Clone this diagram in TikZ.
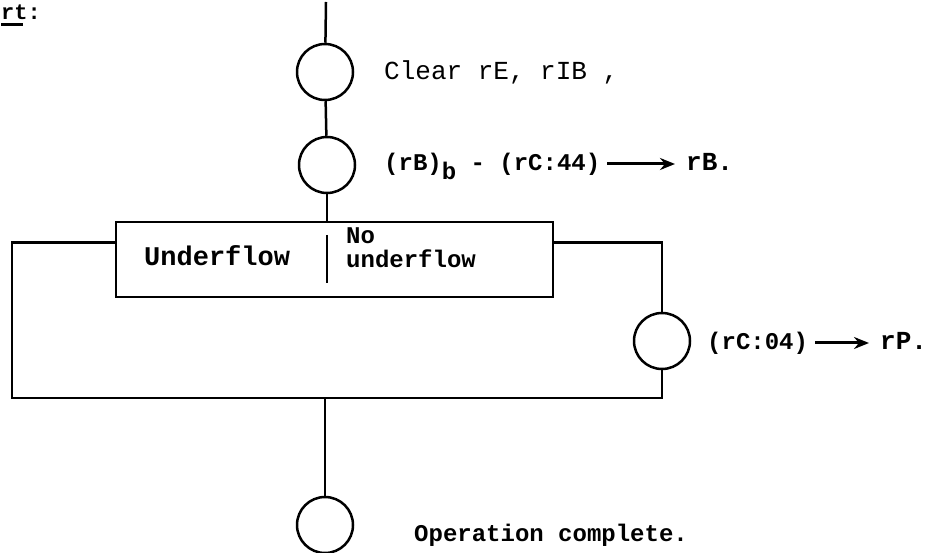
\documentclass[tikz,border=0pt]{standalone}
\usepackage{fontspec}
\setmonofont{Liberation Mono}
\usetikzlibrary{arrows.meta,positioning}
\tikzset{
  stepcircle/.style={draw, circle, line width=2.5pt, minimum size=56pt, inner sep=0pt},
  flowline/.style={line width=2.5pt},
  steptext/.style={font=\ttfamily\bfseries\fontsize{24}{28}\selectfont, inner sep=0pt, anchor=base west},
  plaintext/.style={font=\ttfamily\fontsize{26}{28}\selectfont, inner sep=0pt, anchor=base west},
  maparrow/.style={line width=3pt, -{Stealth[length=15pt,width=12pt]}, shorten <=7pt, shorten >=11pt}
}
\begin{document}
\begin{tikzpicture}[x=1pt,y=-1pt]
  \useasboundingbox (0,0) rectangle (948,553);
  % heading
  \node[steptext, font=\ttfamily\bfseries\fontsize{22}{26}\selectfont] (head) at (1,20) {rt:};
  \draw[line width=3pt] (1,25) -- (23,25);
  % main column of steps
  \coordinate (entry) at (326,2);
  \node[stepcircle] (clr) at (325,72) {};
  \node[stepcircle] (sub) at (327,165) {};
  \node[draw, line width=2.5pt, minimum width=437pt, minimum height=75pt, inner sep=0pt] (test) at (334.5,259.5) {};
  \node[stepcircle] (mov) at (662,341) {};
  \node[stepcircle] (done) at (325,525) {};
  \coordinate (loopL) at (12,398);
  \coordinate (join) at (325,398);
  % connectors
  \draw[flowline] (entry) -- (clr);
  \draw[flowline] (clr) -- (sub);
  \draw[flowline] (sub) -- (sub |- test.north);
  \draw[flowline] ([yshift=17pt]test.west) -| (loopL) -| (mov);
  \draw[flowline] ([yshift=17pt]test.east) -| (mov);
  \draw[flowline] (join) -- (done);
  % split inside the test box
  \draw[flowline] (327,235) -- (327,283);
  \node[steptext, font=\ttfamily\bfseries\fontsize{27}{28}\selectfont] (under) at (144,266) {Underflow};
  \node[steptext] (nolbl) at (346,244) {No};
  \node[steptext] (nounder) at (346,268) {underflow};
  % step texts
  \node[plaintext] (clrtxt) at (384,80) {Clear rE, rIB ,};
  \node[steptext] (subsrc) at (384,171) {(rB)\raisebox{-9pt}{b} - (rC:44)};
  \node[steptext, font=\ttfamily\bfseries\fontsize{26}{28}\selectfont] (subdst) at (686,171) {rB.};
  \draw[maparrow] (subsrc.east |- 0,164) -- (subdst.west |- 0,164);
  \node[steptext] (movsrc) at (707,350) {(rC:04)};
  \node[steptext, font=\ttfamily\bfseries\fontsize{26}{28}\selectfont] (movdst) at (880,350) {rP.};
  \draw[maparrow] (movsrc.east |- 0,343) -- (movdst.west |- 0,343);
  \node[steptext] (donetxt) at (414,541) {Operation complete.};
\end{tikzpicture}
\end{document}
